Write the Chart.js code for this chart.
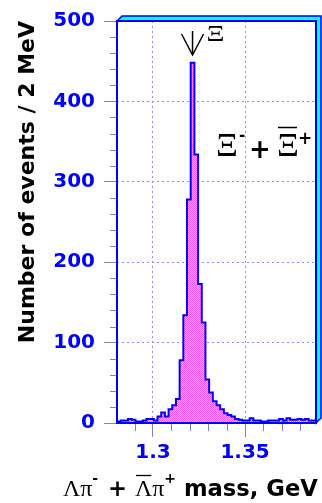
<!DOCTYPE html>
<html><head><meta charset="utf-8">
<script src="https://cdn.jsdelivr.net/npm/chart.js@4.4.1/dist/chart.umd.min.js"></script>
<style>html,body{margin:0;padding:0;background:#fff;overflow:hidden}canvas{display:block}</style>
</head><body>
<canvas id="c" width="322" height="503"></canvas>
<script>
// ---- data ----
const binLowEdges = [
 1.2805,1.2825,1.2845,1.2865,1.2885,1.2905,1.2925,1.2945,1.2965,1.2985,
 1.3005,1.3025,1.3045,1.3065,1.3085,1.3105,1.3125,1.3145,1.3165,1.3185,
 1.3205,1.3225,1.3245,1.3265,1.3285,1.3305,1.3325,1.3345,1.3365,1.3385,
 1.3405,1.3425,1.3445,1.3465,1.3485,1.3505,1.3525,1.3545,1.3565,1.3585,
 1.3605,1.3625,1.3645,1.3665,1.3685,1.3705,1.3725,1.3745,1.3765,1.3785,
 1.3805,1.3825,1.3845,1.3865];
const lastUpperEdge = 1.3885;
const eventCounts = [
 2,3,3,5,4,2,2,3,5,5,
 3,8,13,8,17,22,30,78,134,278,
 448,334,173,125,54,38,27,22,17,12,
 10,8,5,4,3,3,6,3,3,2,
 2,3,3,3,5,3,6,4,4,5,
 4,5,3,3];
const xTickValues = [1.30, 1.35];
const xTickLabels = ['1.3', '1.35'];
const xMinorTicks = [1.29,1.31,1.32,1.33,1.34,1.36,1.37,1.38];
const yTickValues = [0,100,200,300,400,500];
const yMinorTicks = [20,40,60,80,120,140,160,180,220,240,260,280,320,340,360,380,420,440,460,480];
const xiPeakMass = 1.3215;

// ---- build ----
const histPoints = binLowEdges.map((x,i)=>({x:x, y:eventCounts[i]}));
histPoints.push({x:lastUpperEdge, y:eventCounts[eventCounts.length-1]});

const pc = document.createElement('canvas'); pc.width=2; pc.height=2;
const pctx = pc.getContext('2d');
pctx.fillStyle='#ffbcff'; pctx.fillRect(0,0,2,2);
pctx.fillStyle='#ff50ff'; pctx.fillRect(0,0,1,1); pctx.fillRect(1,1,1,1);
const ctx0 = document.getElementById('c').getContext('2d');
const pinkPattern = ctx0.createPattern(pc,'repeat');

const SANS = "'DejaVu Sans', sans-serif";
const SERIF = "'Liberation Serif', 'DejaVu Serif', serif";

function tallText(c, t, x, yb, size, sy){
  c.save(); c.translate(x, yb); c.scale(1, sy);
  c.font = size+'px '+SERIF; c.fillText(t, 0, 0);
  const w = c.measureText(t).width; c.restore(); return w;
}

const decor = {
  id:'decor',
  afterDatasetsDraw(chart){
    const c = chart.ctx, a = chart.chartArea;
    const xs = chart.scales.x, ys = chart.scales.y;
    c.save();
    // minor ticks
    c.strokeStyle='#8080c8'; c.lineWidth=1;
    yMinorTicks.forEach(v=>{const p=Math.round(ys.getPixelForValue(v))+0.5; c.beginPath(); c.moveTo(a.left-7,p); c.lineTo(a.left,p); c.stroke();});
    xMinorTicks.forEach(v=>{const p=Math.round(xs.getPixelForValue(v))+0.5; c.beginPath(); c.moveTo(p,a.bottom); c.lineTo(p,a.bottom+8); c.stroke();});
    // 3D frame bevel
    const bw=5;
    c.fillStyle='#00ffff';
    c.beginPath();
    c.moveTo(a.left,a.top); c.lineTo(a.left+bw,a.top-bw); c.lineTo(a.right+bw,a.top-bw);
    c.lineTo(a.right+bw,a.bottom-bw); c.lineTo(a.right,a.bottom); c.lineTo(a.right,a.top); c.closePath(); c.fill();
    c.strokeStyle='#0000ff'; c.lineWidth=1.5; c.stroke();
    c.lineWidth=2;
    c.beginPath(); c.moveTo(a.left,a.top-1); c.lineTo(a.left,a.bottom); c.lineTo(a.right,a.bottom); c.lineTo(a.right,a.top); c.lineTo(a.left,a.top); c.stroke();
    // arrow marking the Xi mass
    const px = xs.getPixelForValue(xiPeakMass);
    c.strokeStyle='#000'; c.lineWidth=1.5;
    c.beginPath(); c.moveTo(px,31); c.lineTo(px,55); c.stroke();
    c.beginPath(); c.moveTo(px-11,34); c.lineTo(px,55); c.lineTo(px+11,34); c.stroke();
    c.fillStyle='#000'; c.textBaseline='alphabetic'; c.textAlign='left';
    tallText(c, 'Ξ', px+14, 41, 28, 0.85);
    // Xi- + anti-Xi+
    tallText(c, 'Ξ', 216, 156, 34, 1.0);
    c.font = "bold 15px "+SANS; c.fillText('-', 239, 140);
    c.font = "bold 26px "+SANS; c.fillText('+', 249, 158);
    tallText(c, 'Ξ', 277, 156, 34, 1.0);
    c.lineWidth=1.5; c.beginPath(); c.moveTo(278,127.5); c.lineTo(297,127.5); c.stroke();
    c.font = "bold 17px "+SANS; c.fillText('+', 298, 144);
    // x axis title, fitted to the span of the original
    const parts = [
      {t:'Λπ', f:'serif', s:22},
      {t:'-', f:'sans', s:13, dy:-12},
      {t:' + ', f:'sans', s:21, pre:2},
      {t:'Λ', f:'serif', s:22, bar:true},
      {t:'π', f:'serif', s:22},
      {t:'+', f:'sans', s:13, dy:-12},
      {t:' mass, GeV', f:'sans', s:21}
    ];
    const fontOf=(p,k)=> (p.f==='sans' ? 'bold '+(p.s*k)+'px '+SANS : (p.s*k)+'px '+SERIF);
    let tot=0; parts.forEach(p=>{c.font=fontOf(p,1); tot+=c.measureText(p.t).width+(p.pre||0);});
    const k = 255/tot;
    let x = 63; const yb = 496;
    parts.forEach(p=>{
      x += (p.pre||0)*k;
      c.font=fontOf(p,k); const w=c.measureText(p.t).width;
      c.fillText(p.t,x,yb+(p.dy||0)*k);
      if(p.bar){c.lineWidth=1.3; c.beginPath(); c.moveTo(x+1,475.5); c.lineTo(x+w-1,475.5); c.stroke();}
      x+=w;
    });
    c.restore();
  }
};

new Chart(ctx0, {
  type:'line',
  data:{datasets:[{
    data: histPoints,
    stepped:'before',
    borderColor:'#0000ff', borderWidth:2,
    backgroundColor: pinkPattern,
    fill:'origin', pointRadius:0, tension:0
  }]},
  options:{
    responsive:false, animation:false, devicePixelRatio:1,
    layout:{padding:{top:18,right:6,left:0,bottom:0}},
    plugins:{legend:{display:false}, tooltip:{enabled:false}},
    scales:{
      x:{type:'linear', min:1.2805, max:lastUpperEdge,
        afterBuildTicks:s=>{s.ticks = xTickValues.map(v=>({value:v}));},
        afterFit:s=>{s.height=80;},
        ticks:{callback:(v,i)=>xTickLabels[i], color:'#0000ff', font:{family:SANS, size:20, weight:'bold'}, padding:4, maxRotation:0, autoSkip:false},
        grid:{color:'#8c8cff', lineWidth:1, tickColor:'#8080c8', tickLength:14, tickBorderDash:[]},
        border:{display:false, dash:[2,3]}
      },
      y:{type:'linear', min:0, max:500,
        afterBuildTicks:s=>{s.ticks = yTickValues.map(v=>({value:v}));},
        afterFit:s=>{s.width=117;},
        ticks:{color:'#0000ff', font:{family:SANS, size:20, weight:'bold'}, padding:9},
        grid:{color:'#8c8cff', lineWidth:1, tickColor:'#8080c8', tickLength:13, tickBorderDash:[]},
        border:{display:false, dash:[2,3]},
        title:{display:true, text:'Number of events / 2 MeV', align:'end', color:'#000', font:{family:SANS, size:22, weight:'bold'}, padding:{top:15,bottom:0}}
      }
    }
  },
  plugins:[decor]
});
</script>
</body></html>
